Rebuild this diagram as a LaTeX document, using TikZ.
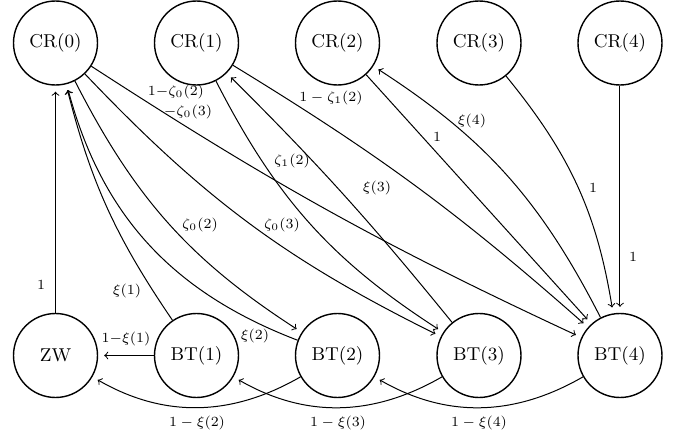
\documentclass[tikz,border=0pt]{standalone}
\begin{document}
\begin{tikzpicture}[x=0.5pt,y=0.5pt,
  st/.style={circle,draw,line width=0.7pt,minimum size=42pt,inner sep=0pt,font=\fontsize{9.3}{11}\selectfont},
  lbl/.style={font=\fontsize{7.2}{8.5}\selectfont,inner sep=0pt},
  arr/.style={->,line width=0.5pt,shorten >=3pt}]
\useasboundingbox (0,0) rectangle (677,-439);
% states
\node[st] (CR0) at (55.5,-43) {CR(0)};
\node[st] (CR1) at (196.5,-43) {CR(1)};
\node[st] (CR2) at (337.5,-43) {CR(2)};
\node[st] (CR3) at (479,-43) {CR(3)};
\node[st] (CR4) at (620,-43) {CR(4)};
\node[st] (ZW)  at (55.5,-355.5) {ZW};
\node[st] (BT1) at (196.5,-355.5) {BT(1)};
\node[st] (BT2) at (337.5,-355.5) {BT(2)};
\node[st] (BT3) at (479,-355.5) {BT(3)};
\node[st] (BT4) at (620,-355.5) {BT(4)};
% connectors
\draw[arr] (ZW) -- (CR0);
\draw[arr] (BT1) to[bend left=10] (CR0);
\draw[arr] (BT2) to[bend left=27] (CR0);
\draw[arr] (CR0) to[bend right=15] (BT2);
\draw[arr] (CR0) to[bend right=10] (BT3);
\draw[arr] (CR0) to[bend right=4] (BT4);
\draw[arr] (CR1) to[bend right=15] (BT3);
\draw[arr] (BT3) to[bend right=3] (CR1);
\draw[arr] (CR1) to[bend left=5] (BT4);
\draw[arr] (CR2) -- (BT4);
\draw[arr] (BT4) to[bend right=15] (CR2);
\draw[arr] (CR3) to[bend left=15] (BT4);
\draw[arr] (CR4) -- (BT4);
\draw[arr] (BT1) -- (ZW);
\draw[arr] (BT2) to[bend left=30] (ZW);
\draw[arr] (BT3) to[bend left=30] (BT1);
\draw[arr] (BT4) to[bend left=30] (BT2);
% labels
\node[lbl] (l1) at (41,-285) {$1$};
\node[lbl] (l2) at (127,-291) {$\xi(1)$};
\node[lbl] (l3) at (126,-339) {$1{-}\xi(1)$};
\node[lbl] (l4) at (255,-336) {$\xi(2)$};
\node[lbl] (l5) at (200,-225) {$\zeta_0(2)$};
\node[lbl] (l6) at (282,-225) {$\zeta_0(3)$};
\node[lbl] (l7) at (176,-92) {$1{-}\zeta_0(2)$};
\node[lbl] (l8) at (188,-112) {${-}\zeta_0(3)$};
\node[lbl] (l9) at (331,-98) {$1-\zeta_1(2)$};
\node[lbl] (l10) at (292,-161) {$\zeta_1(2)$};
\node[lbl] (l11) at (377,-188) {$\xi(3)$};
\node[lbl] (l12) at (437,-137) {$1$};
\node[lbl] (l13) at (472,-121) {$\xi(4)$};
\node[lbl] (l14) at (593,-188) {$1$};
\node[lbl] (l15) at (633,-257) {$1$};
\node[lbl] (l16) at (197,-423) {$1-\xi(2)$};
\node[lbl] (l17) at (338,-423) {$1-\xi(3)$};
\node[lbl] (l18) at (479,-423) {$1-\xi(4)$};
\end{tikzpicture}
\end{document}
